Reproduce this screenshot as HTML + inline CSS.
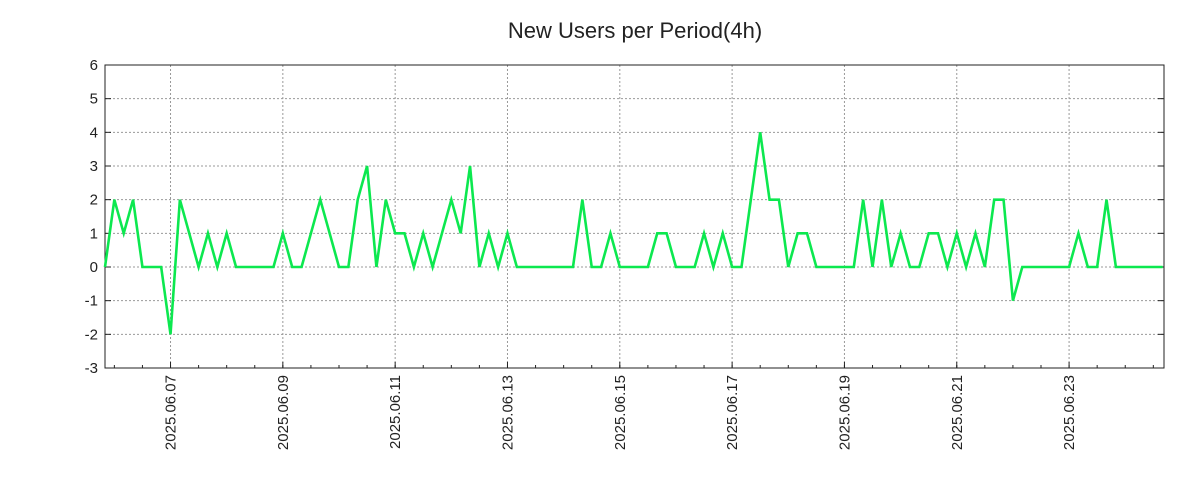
<!DOCTYPE html>
<html><head><meta charset="utf-8"><style>
html,body{margin:0;padding:0;background:#fff;}
svg{display:block;font-family:"Liberation Sans","DejaVu Sans",sans-serif;}
</style></head><body>
<svg id="chart" width="1200" height="500">
<rect x="0" y="0" width="1200" height="500" fill="#fff"/>
<text x="635" y="38" text-anchor="middle" font-size="22" fill="#222">New Users per Period(4h)</text>
<g id="grid"></g><g id="axes"></g><g id="series"></g>
</svg>
<script>
const values = [0,2,1,2,0,0,0,-2,2,1,0,1,0,1,0,0,0,0,0,1,0,0,1,2,1,0,0,2,3,0,2,1,1,0,1,0,1,2,1,3,0,1,0,1,0,0,0,0,0,0,0,2,0,0,1,0,0,0,0,1,1,0,0,0,1,0,1,0,0,2,4,2,2,0,1,1,0,0,0,0,0,2,0,2,0,1,0,0,1,1,0,1,0,1,0,2,2,-1,0,0,0,0,0,0,1,0,0,2,0,0,0,0,0,0];
const yTicks = [-3,-2,-1,0,1,2,3,4,5,6];
const xLabels = ["2025.06.07","2025.06.09","2025.06.11","2025.06.13","2025.06.15","2025.06.17","2025.06.19","2025.06.21","2025.06.23"];
const firstLabelIndex = 7, periodsPerLabel = 12;

const L=105,R=1164,T=65,B=368,step=9.36;
const X=i=>L+i*step;
const Y=v=>B-(v-(-3))*(B-T)/9;
const NS="http://www.w3.org/2000/svg";
function mk(tag,attrs,parent,txt){const e=document.createElementNS(NS,tag);for(const k in attrs)e.setAttribute(k,attrs[k]);if(txt!=null)e.textContent=txt;parent.appendChild(e);return e;}
const grid=document.getElementById('grid'),axes=document.getElementById('axes'),series=document.getElementById('series');

yTicks.forEach(v=>{
  const y=Y(v);
  if(v>-3&&v<6){const g=mk('line',{x1:L,x2:R,y1:y,y2:y,stroke:'#999','stroke-dasharray':'2,2','stroke-width':1},grid);
  
  }
  mk('line',{x1:L,x2:L+6,y1:y,y2:y,stroke:'#222'},axes);
  mk('line',{x1:R,x2:R-6,y1:y,y2:y,stroke:'#222'},axes);
  const t=mk('text',{x:98,y:y+5,'text-anchor':'end','font-size':15,fill:'#222'},axes,String(v));
  
  
});
// minor ticks every 3 periods
for(let i=firstLabelIndex%3;i*step+L<=R;i+=3){
  const x=X(i);
  mk('line',{x1:x,x2:x,y1:B,y2:B-3,stroke:'#222'},axes);
}
xLabels.forEach((lab,k)=>{
  const x=X(firstLabelIndex+k*periodsPerLabel);
  const g=mk('line',{x1:x,x2:x,y1:T,y2:B,stroke:'#999','stroke-dasharray':'2,2','stroke-width':1},grid);
  
  
  mk('line',{x1:x,x2:x,y1:B,y2:B-6,stroke:'#222'},axes);
  const t=mk('text',{x:0,y:0,'text-anchor':'end','font-size':15,fill:'#222',transform:`translate(${x+5},375) rotate(-90)`},axes,lab);
  
  
});
const frame=mk('rect',{x:L,y:T,width:R-L,height:B-T,fill:'none',stroke:'#222','stroke-width':1},axes);



const line=mk('polyline',{points:values.map((v,i)=>X(i)+','+Y(v)).join(' '),fill:'none',stroke:'#0ce84f','stroke-width':2.6,'stroke-linejoin':'miter'},series);


</script>
</body></html>
